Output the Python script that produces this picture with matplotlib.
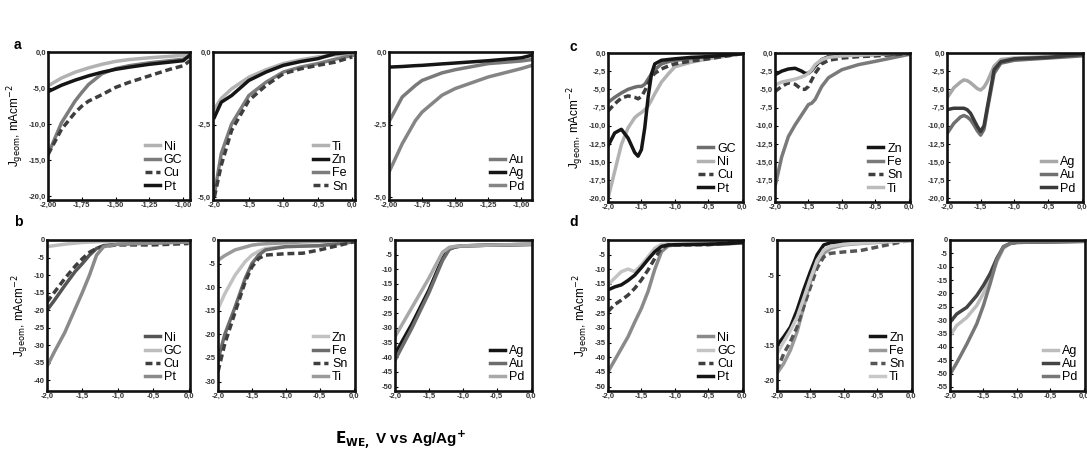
import numpy as np
import matplotlib
matplotlib.use("Agg")
import matplotlib.pyplot as plt
from matplotlib.ticker import FuncFormatter

plt.rcParams['font.family'] = ['Liberation Sans', 'DejaVu Sans']

# panel a (cathodic scans, top left)
a1_x = [-2.0, -1.9, -1.8, -1.75, -1.7, -1.6, -1.5, -1.4, -1.25, -1.1, -1.0, -0.95]
a1_ni = [-4.7, -3.6, -2.8, -2.5, -2.2, -1.7, -1.3, -1.05, -0.8, -0.6, -0.45, -0.3]
a1_gc = [-14.2, -9.8, -6.8, -5.6, -4.5, -3.0, -2.3, -1.9, -1.5, -1.2, -1.0, -0.6]
a1_cu = [-14.2, -10.7, -8.4, -7.5, -6.8, -5.9, -4.9, -4.2, -3.3, -2.4, -1.9, -1.2]
a1_pt = [-5.5, -4.6, -3.9, -3.6, -3.3, -2.8, -2.4, -2.1, -1.7, -1.4, -1.2, -0.4]

a2_x = [-2.0, -1.9, -1.75, -1.5, -1.25, -1.0, -0.75, -0.5, -0.25, 0.0]
a2_ti = [-1.96, -1.6, -1.27, -0.87, -0.61, -0.4, -0.27, -0.17, -0.1, -0.06]
a2_zn = [-2.25, -1.73, -1.5, -0.98, -0.69, -0.46, -0.33, -0.23, -0.06, 0.0]
a2_fe = [-4.9, -3.5, -2.48, -1.5, -1.04, -0.69, -0.52, -0.4, -0.25, -0.12]
a2_sn = [-5.0, -3.9, -2.7, -1.67, -1.15, -0.75, -0.58, -0.46, -0.35, -0.17]

a3_x = [-2.0, -1.9, -1.8, -1.75, -1.6, -1.5, -1.25, -1.0, -0.92]
a3_au = [-2.4, -1.55, -1.15, -0.98, -0.72, -0.61, -0.4, -0.31, -0.26]
a3_ag = [-0.52, -0.5, -0.47, -0.46, -0.41, -0.38, -0.3, -0.2, -0.11]
a3_pd = [-4.14, -3.16, -2.36, -2.07, -1.49, -1.26, -0.86, -0.57, -0.46]

# panel b
b1_x = [-2.0, -1.9, -1.75, -1.6, -1.5, -1.4, -1.3, -1.2, -1.0, -0.5, 0.0]
b1_ni = [-20, -17.3, -13, -8.9, -6.7, -4.3, -2.4, -1.6, -1.2, -0.8, -0.5]
b1_gc = [-1.9, -1.6, -1.2, -0.9, -0.7, -0.6, -0.5, -0.4, -0.3, -0.1, 0.0]
b1_cu = [-17.7, -15, -11, -7.4, -5.3, -3.5, -2.4, -1.8, -1.4, -1.4, -1.0]
b1_pt = [-36, -32, -26.4, -19.5, -14.9, -10, -4.3, -1.9, -1.2, -0.9, -0.6]

b2_x = [-2.0, -1.9, -1.75, -1.6, -1.5, -1.4, -1.3, -1.0, -0.75, -0.5, 0.0]
b2_zn = [-14.6, -11.4, -7.5, -4.6, -3.2, -2.4, -1.8, -1.4, -1.3, -1.2, -0.4]
b2_fe = [-25.4, -20, -14.3, -8.2, -5, -3.2, -2.1, -1.4, -1.3, -1.2, -0.4]
b2_sn = [-27.9, -22, -15.4, -8.9, -5.7, -3.9, -3.2, -2.9, -2.8, -2.1, -0.4]
b2_ti = [-4.3, -3.3, -2.1, -1.5, -1.1, -0.9, -0.8, -0.6, -0.4, -0.3, 0.0]

b3_x = [-2.0, -1.75, -1.5, -1.3, -1.2, -1.1, -1.0, -0.5, 0.0]
b3_ag = [-38.9, -28.6, -17.1, -6.3, -2.9, -2.3, -2.0, -1.7, -1.5]
b3_au = [-41, -30, -18, -7, -3.2, -2.3, -2.0, -1.7, -1.5]
b3_pd = [-33, -23, -13, -4.2, -2.5, -2.1, -2.0, -1.7, -1.4]

# panel c
c1_x = [-2.0, -1.9, -1.8, -1.7, -1.6, -1.55, -1.5, -1.45, -1.4, -1.35, -1.3, -1.2, -1.1, -1.0, -0.75, -0.5, 0.0]
c1_gc = [-6.8, -6.1, -5.5, -5.0, -4.7, -4.6, -4.6, -4.3, -3.6, -2.9, -2.3, -1.5, -1.2, -1.0, -0.8, -0.55, -0.1]
c1_ni = [-20, -16.3, -12.6, -10.3, -8.9, -8.5, -8.2, -7.8, -7.3, -6.5, -5.6, -4.0, -2.9, -1.9, -1.25, -0.8, -0.1]
c1_cu = [-8.0, -7.0, -6.2, -5.9, -6.1, -6.3, -6.0, -5.2, -4.2, -3.3, -2.8, -2.2, -1.8, -1.5, -1.1, -0.8, -0.1]
c1_pt = [-12.8, -11.0, -10.5, -11.7, -13.7, -14.2, -13.3, -10.3, -6.1, -2.9, -1.5, -1.0, -0.9, -0.8, -0.6, -0.5, -0.1]

c2_x = [-2.0, -1.9, -1.8, -1.7, -1.6, -1.55, -1.5, -1.45, -1.4, -1.3, -1.2, -1.0, -0.75, -0.5, 0.0]
c2_zn = [-3.0, -2.5, -2.2, -2.1, -2.5, -2.8, -2.8, -2.4, -1.8, -0.9, -0.5, -0.3, -0.25, -0.2, -0.1]
c2_fe = [-18.4, -14.3, -11.5, -9.9, -8.5, -7.8, -7.1, -6.9, -6.4, -4.6, -3.4, -2.3, -1.6, -1.15, -0.2]
c2_sn = [-5.3, -4.6, -4.1, -4.3, -5.0, -5.0, -4.6, -3.7, -2.8, -1.5, -1.0, -0.7, -0.5, -0.4, -0.1]
c2_ti = [-4.4, -4.0, -3.8, -3.6, -3.3, -3.1, -2.8, -2.3, -1.6, -0.9, -0.6, -0.4, -0.3, -0.2, 0.1]

c3_x = [-2.0, -1.9, -1.8, -1.75, -1.7, -1.65, -1.6, -1.55, -1.5, -1.45, -1.4, -1.3, -1.2, -1.0, -0.5, 0.0]
c3_ag = [-6.2, -4.8, -4.0, -3.7, -3.8, -4.1, -4.5, -4.9, -5.1, -4.7, -3.9, -1.8, -0.9, -0.7, -0.5, -0.1]
c3_au = [-11.1, -9.7, -8.8, -8.6, -8.8, -9.2, -9.9, -10.7, -11.3, -10.5, -7.8, -2.8, -1.4, -1.0, -0.7, -0.4]
c3_pd = [-7.8, -7.6, -7.6, -7.6, -7.8, -8.3, -9.2, -10.1, -10.8, -10.0, -7.4, -2.3, -1.2, -0.8, -0.6, -0.2]

# panel d
d1_x = [-2.0, -1.9, -1.8, -1.7, -1.6, -1.5, -1.4, -1.3, -1.2, -1.1, -1.0, -0.5, -0.2, 0.0]
d1_ni = [-45, -41, -37, -33, -28, -23.3, -17.5, -10, -4, -2.0, -1.7, -1.5, -1.3, -1.0]
d1_gc = [-15.3, -13, -10.8, -9.9, -10.8, -8.5, -5.7, -2.8, -1.5, -1.4, -1.4, -1.2, -1.0, -0.8]
d1_cu = [-24.4, -22, -20.5, -18.8, -16.5, -13.6, -10.2, -6.3, -2.8, -1.7, -1.7, -1.6, -1.0, 0.5]
d1_pt = [-17, -16, -15.3, -13.8, -12, -9.4, -6.6, -4, -2.2, -1.7, -1.6, -1.4, -1.2, -0.9]

d2_x = [-2.0, -1.9, -1.8, -1.7, -1.6, -1.5, -1.4, -1.3, -1.2, -1.0, -0.75, -0.5, -0.25, 0.0]
d2_zn = [-15, -13.8, -12.4, -10, -7.1, -4.5, -2.1, -0.7, -0.4, -0.25, -0.2, -0.15, -0.1, 0.0]
d2_fe = [-19, -17.6, -15.7, -13.1, -9.5, -6, -3.3, -1.9, -1.2, -0.7, -0.5, -0.35, -0.2, -0.1]
d2_sn = [-18.6, -16.2, -14.5, -12.4, -9.5, -6.7, -4, -2.4, -1.9, -1.7, -1.5, -1.0, -0.5, 0.0]
d2_ti = [-16.2, -14.5, -12.9, -11, -8.3, -5.5, -2.9, -1.4, -0.9, -0.6, -0.45, -0.3, -0.2, -0.1]

d3_x = [-2.0, -1.9, -1.75, -1.6, -1.5, -1.4, -1.3, -1.2, -1.1, -1.0, 0.0]
d3_ag = [-35.8, -32, -29, -24.5, -20, -14.5, -8.2, -3.1, -1.3, -0.9, -0.5]
d3_au = [-30.8, -27.7, -25.2, -20.8, -17, -12.6, -6.9, -2.5, -1.3, -0.9, -0.5]
d3_pd = [-50.3, -46, -39, -31.4, -24.5, -16.4, -7.5, -2.5, -1.3, -0.9, -0.5]

y_label = r'J$_{\rm geom}$, mAcm$^{-2}$'
x_label = r'$\mathbf{E_{WE,}}$ V vs Ag/Ag$^{\mathbf{+}}$'

BLACK = '#151515'
DASH = '#3e3e3e'


def comma(nd):
    def f(v, p):
        if abs(v) < 1e-9:
            v = 0.0
        return f"{v:.{nd}f}".replace('.', ',')
    return FuncFormatter(f)


def draw(rect, x, curves, xlim, ylim, xticks, yticks, xnd, ynd, ylabel=False):
    W, H = 1087.0, 457.0
    l, t, r, b = rect
    ax = fig.add_axes([l / W, 1 - b / H, (r - l) / W, (b - t) / H])
    for ys, name, color, dashed in curves:
        if dashed:
            ax.plot(x, ys, color=color, lw=2.5, ls=(0, (2.0, 1.1)), label=name)
        else:
            ax.plot(x, ys, color=color, lw=2.5, label=name)
    ax.set_xlim(*xlim)
    ax.set_ylim(*ylim)
    ax.set_xticks(xticks)
    ax.set_yticks(yticks)
    ax.xaxis.set_major_formatter(comma(xnd))
    ax.yaxis.set_major_formatter(comma(ynd))
    ax.tick_params(direction='in', length=2, width=0.8, labelsize=5.5, pad=1.5)
    for lab in ax.get_xticklabels() + ax.get_yticklabels():
        lab.set_fontweight('bold')
        lab.set_color('#333333')
    for s in ax.spines.values():
        s.set_linewidth(1.9)
        s.set_color('#111111')
    if ylabel:
        ax.set_ylabel(y_label, fontsize=8.5, labelpad=2)
    ax.legend(loc='lower right', frameon=False, fontsize=9, handlelength=1.2,
              handletextpad=0.3, labelspacing=0.1, borderaxespad=0.2)
    return ax


fig = plt.figure(figsize=(10.87, 4.57), dpi=100)

xt_a = [-2.0, -1.75, -1.5, -1.25, -1.0]
xt_full = [-2.0, -1.5, -1.0, -0.5, 0.0]

draw((48, 52, 190, 200), a1_x,
     [(a1_ni, 'Ni', '#b2b2b2', False), (a1_gc, 'GC', '#7c7c7c', False),
      (a1_cu, 'Cu', DASH, True), (a1_pt, 'Pt', BLACK, False)],
     (-2.0, -0.95), (-20.5, 0), xt_a, np.arange(-20, 1, 5), 2, 1, ylabel=True)
draw((213, 52, 355, 200), a2_x,
     [(a2_ti, 'Ti', '#b2b2b2', False), (a2_zn, 'Zn', BLACK, False),
      (a2_fe, 'Fe', '#7c7c7c', False), (a2_sn, 'Sn', DASH, True)],
     (-2.02, 0.04), (-5.1, 0), xt_full, [-5.0, -2.5, 0.0], 1, 1)
draw((389, 52, 532, 200), a3_x,
     [(a3_au, 'Au', '#7a7a7a', False), (a3_ag, 'Ag', BLACK, False),
      (a3_pd, 'Pd', '#858585', False)],
     (-2.0, -0.92), (-5.1, 0), xt_a, [-5.0, -2.5, 0.0], 2, 1)

draw((47, 240, 190, 391), b1_x,
     [(b1_ni, 'Ni', '#555555', False), (b1_gc, 'GC', '#bdbdbd', False),
      (b1_cu, 'Cu', DASH, True), (b1_pt, 'Pt', '#8a8a8a', False)],
     (-2.0, 0.02), (-43, 0), xt_full, np.arange(-40, 1, 5), 1, 0, ylabel=True)
draw((218, 240, 355, 391), b2_x,
     [(b2_zn, 'Zn', '#c2c2c2', False), (b2_fe, 'Fe', '#6c6c6c', False),
      (b2_sn, 'Sn', DASH, True), (b2_ti, 'Ti', '#9a9a9a', False)],
     (-2.0, 0.02), (-32, 0), xt_full, np.arange(-30, 1, 5), 1, 0)
draw((395, 240, 532, 391), b3_x,
     [(b3_ag, 'Ag', BLACK, False), (b3_au, 'Au', '#6c6c6c', False),
      (b3_pd, 'Pd', '#a8a8a8', False)],
     (-2.0, 0.02), (-51.5, 0), xt_full, np.arange(-50, 1, 5), 1, 0)

draw((608, 53, 743, 202), c1_x,
     [(c1_gc, 'GC', '#6e6e6e', False), (c1_ni, 'Ni', '#b2b2b2', False),
      (c1_cu, 'Cu', DASH, True), (c1_pt, 'Pt', BLACK, False)],
     (-2.0, 0.02), (-20.5, 0), xt_full, np.arange(-20, 0.1, 2.5), 1, 1, ylabel=True)
draw((775, 53, 910, 202), c2_x,
     [(c2_zn, 'Zn', BLACK, False), (c2_fe, 'Fe', '#7a7a7a', False),
      (c2_sn, 'Sn', DASH, True), (c2_ti, 'Ti', '#bcbcbc', False)],
     (-2.0, 0.02), (-20.5, 0), xt_full, np.arange(-20, 0.1, 2.5), 1, 1)
draw((947, 53, 1083, 202), c3_x,
     [(c3_ag, 'Ag', '#a8a8a8', False), (c3_au, 'Au', '#707070', False),
      (c3_pd, 'Pd', '#3a3a3a', False)],
     (-2.0, 0.02), (-20.5, 0), xt_full, np.arange(-20, 0.1, 2.5), 1, 1)

draw((608, 240, 743, 391), d1_x,
     [(d1_ni, 'Ni', '#8a8a8a', False), (d1_gc, 'GC', '#c4c4c4', False),
      (d1_cu, 'Cu', DASH, True), (d1_pt, 'Pt', BLACK, False)],
     (-2.0, 0.02), (-51.5, 0), xt_full, np.arange(-50, 1, 5), 1, 0, ylabel=True)
draw((777, 240, 912, 391), d2_x,
     [(d2_zn, 'Zn', BLACK, False), (d2_fe, 'Fe', '#9a9a9a', False),
      (d2_sn, 'Sn', '#555555', True), (d2_ti, 'Ti', '#c8c8c8', False)],
     (-2.0, 0.02), (-21.5, 0), xt_full, np.arange(-20, 1, 5), 1, 0)
draw((950, 240, 1085, 391), d3_x,
     [(d3_ag, 'Ag', '#bdbdbd', False), (d3_au, 'Au', '#444444', False),
      (d3_pd, 'Pd', '#777777', False)],
     (-2.0, 0.02), (-56.5, 0), xt_full, np.arange(-55, 1, 5), 1, 0)

for lbl, px, py in [('a', 14, 45), ('b', 14, 222), ('c', 569, 47), ('d', 569, 222)]:
    fig.text(px / 1087, 1 - py / 457, lbl, fontsize=10, fontweight='bold', va='center')

fig.text(400 / 1087, 1 - 440 / 457, x_label, fontsize=11, fontweight='bold', ha='center', va='center')

fig.savefig('out.png', dpi=100)
